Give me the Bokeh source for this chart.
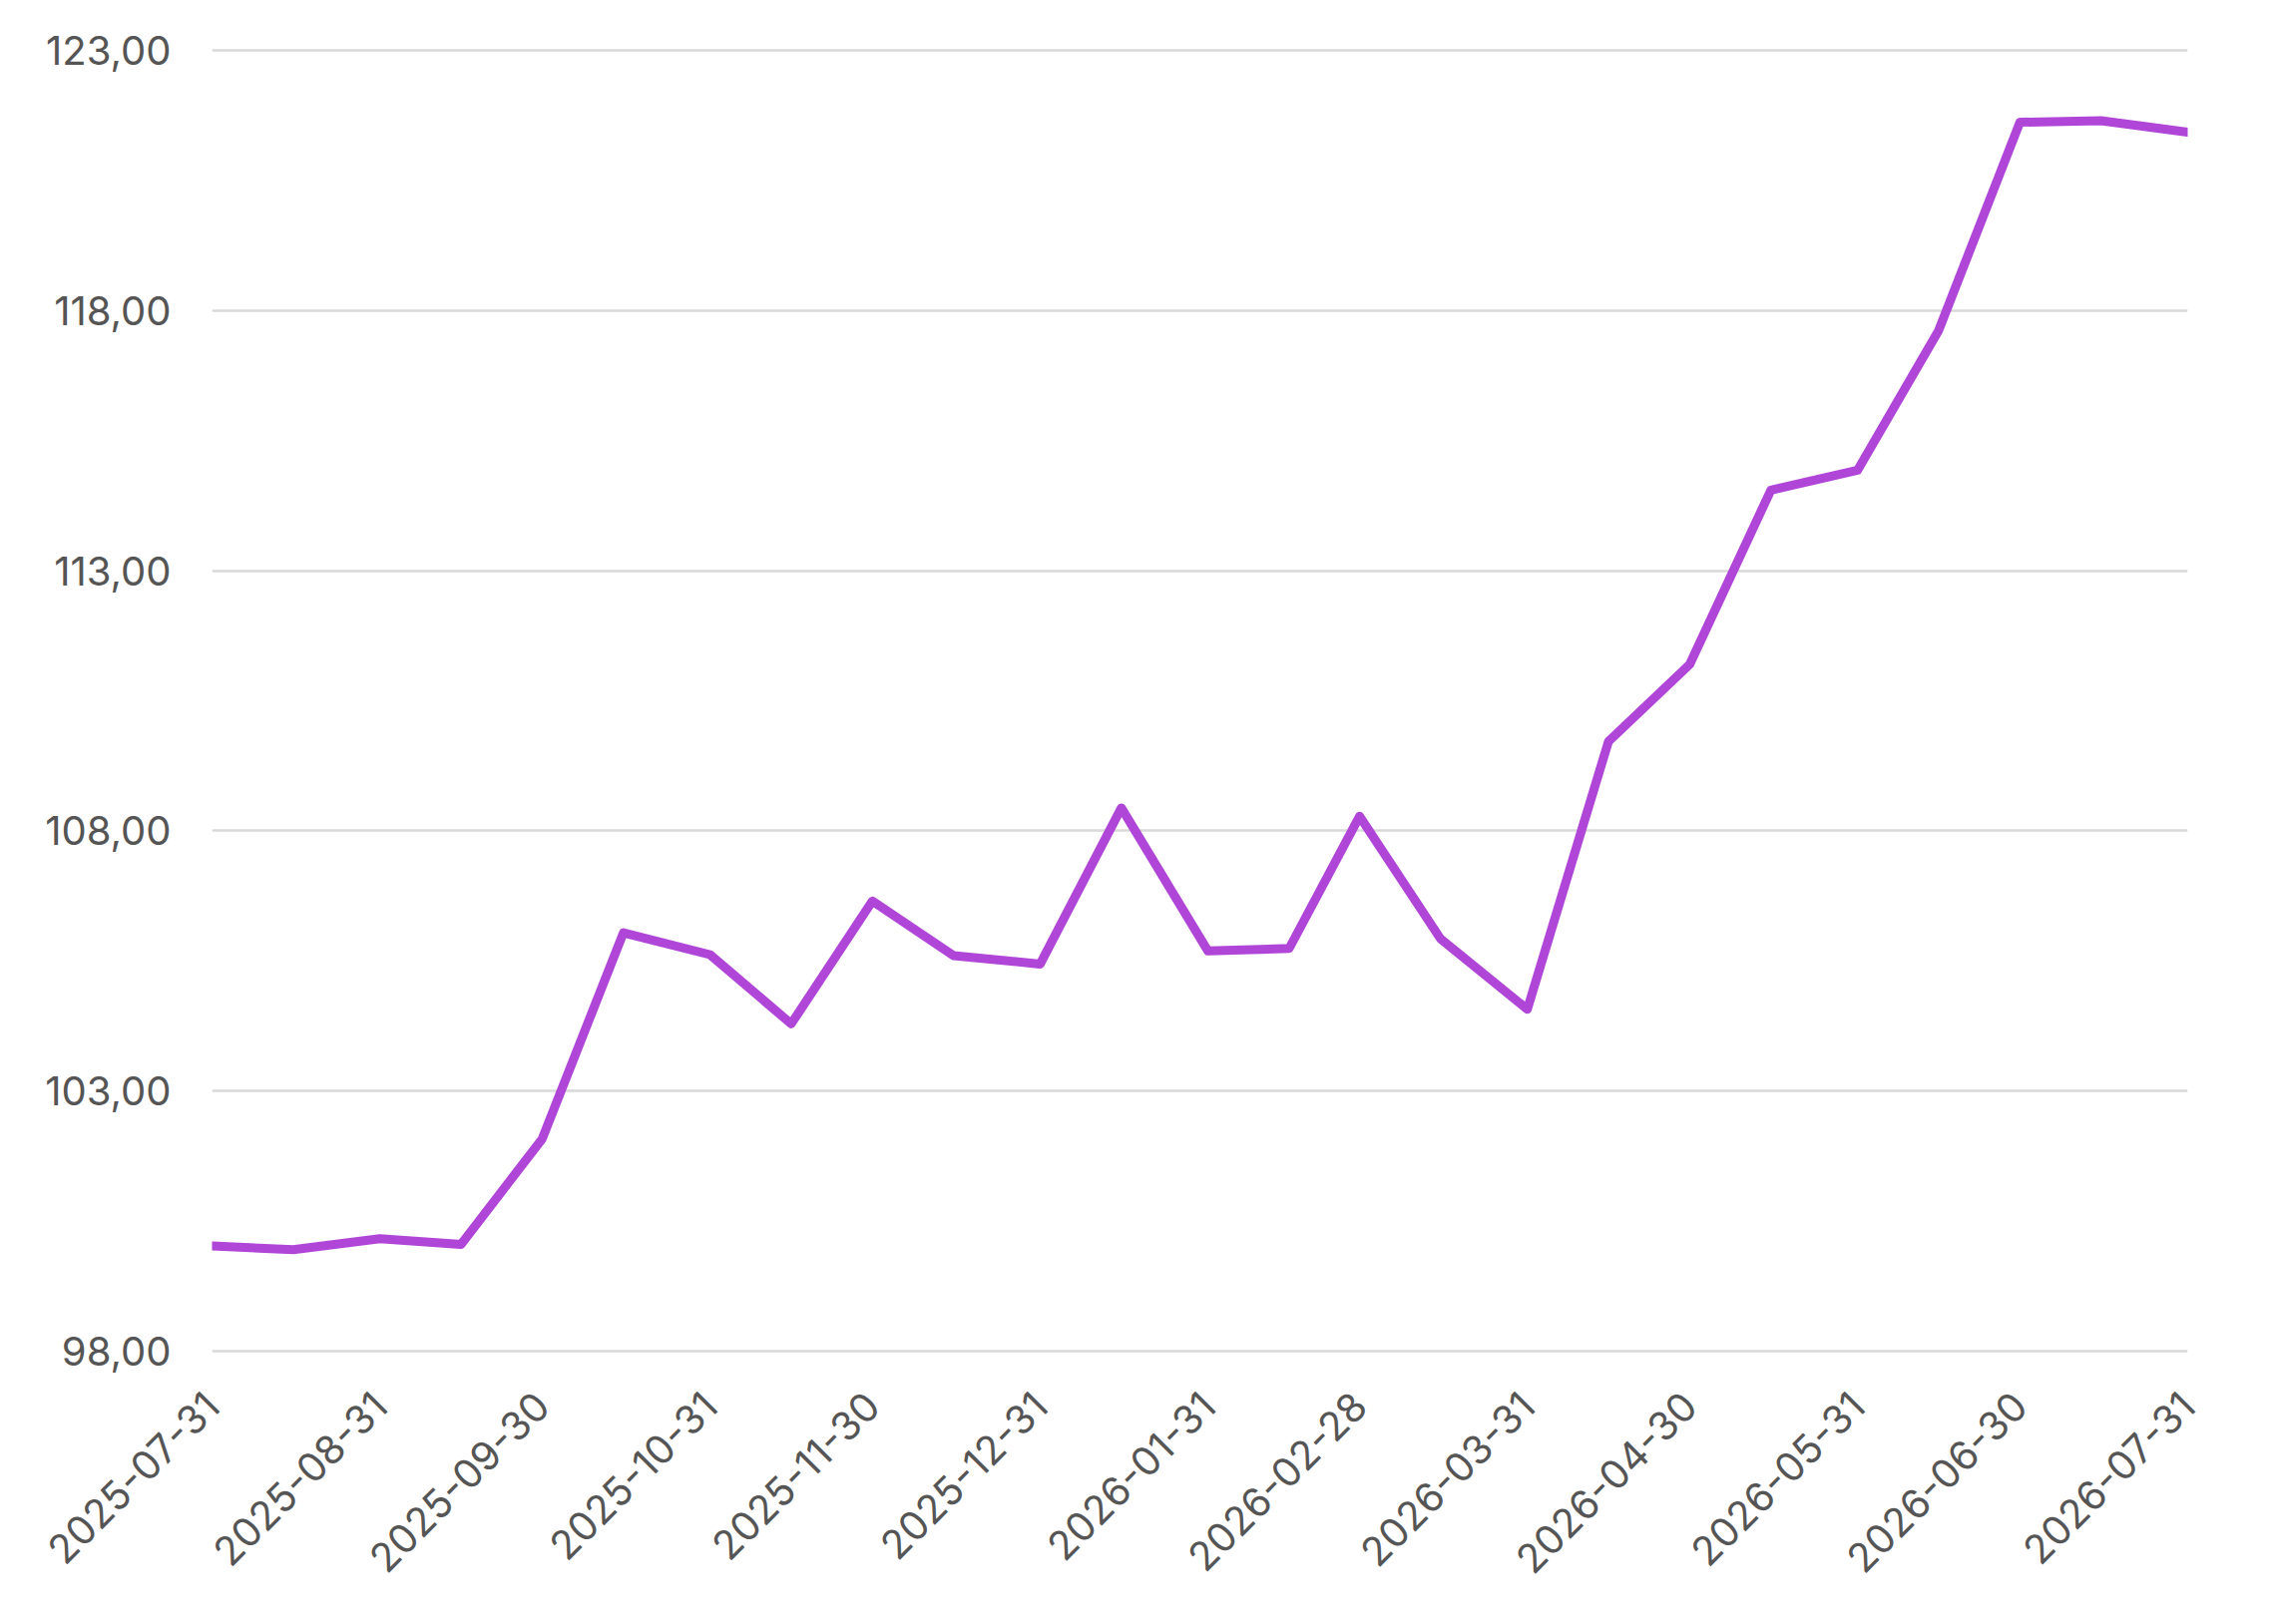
from datetime import datetime
import calendar
from bokeh.plotting import figure
from bokeh.models import FixedTicker, DatetimeTickFormatter, Range1d, ColumnDataSource
from bokeh.embed import file_html
from bokeh.resources import INLINE

dates = ["2025-07-31", "2025-08-15", "2025-08-31", "2025-09-15", "2025-09-30",
         "2025-10-15", "2025-10-31", "2025-11-15", "2025-11-30", "2025-12-15",
         "2025-12-31", "2026-01-15", "2026-01-31", "2026-02-15", "2026-02-28",
         "2026-03-15", "2026-03-31", "2026-04-15", "2026-04-30", "2026-05-15",
         "2026-05-31", "2026-06-15", "2026-06-30", "2026-07-15", "2026-07-31"]
values = [100.02, 99.95, 100.16, 100.05, 102.08,
          106.04, 105.62, 104.29, 106.65, 105.60,
          105.44, 108.44, 105.69, 105.74, 108.28,
          105.92, 104.57, 109.72, 111.20, 114.55,
          114.93, 117.62, 121.62, 121.65, 121.43]
tick_dates = ["2025-07-31", "2025-08-31", "2025-09-30", "2025-10-31", "2025-11-30",
              "2025-12-31", "2026-01-31", "2026-02-28", "2026-03-31", "2026-04-30",
              "2026-05-31", "2026-06-30", "2026-07-31"]
y_ticks = [98, 103, 108, 113, 118, 123]
y_labels = ["98,00", "103,00", "108,00", "113,00", "118,00", "123,00"]

x = [datetime.strptime(d, "%Y-%m-%d") for d in dates]
tick_ms = [calendar.timegm(datetime.strptime(d, "%Y-%m-%d").timetuple()) * 1000 for d in tick_dates]

src = ColumnDataSource(dict(x=x, y=values))

p = figure(x_axis_type="datetime", output_backend="svg", toolbar_location=None,
           frame_width=1980, frame_height=1356,
           x_range=Range1d(x[0], x[-1]), y_range=Range1d(97.5, 123.5),
           min_border_left=212, min_border_top=24, min_border_right=50, min_border_bottom=10)
p.outline_line_color = None
p.background_fill_color = "white"
p.border_fill_color = "white"

p.line("x", "y", source=src, line_color="#B046D8", line_width=9,
       line_join="round", line_cap="round")

font = "Inter"
lab_color = "#555555"

p.xgrid.grid_line_color = None
p.ygrid.grid_line_color = "#d9d9d9"
p.ygrid.grid_line_width = 2.5
p.ygrid.ticker = FixedTicker(ticks=y_ticks)

ya = p.yaxis[0]
ya.ticker = FixedTicker(ticks=y_ticks)
ya.major_label_overrides = {t: l for t, l in zip(y_ticks, y_labels)}
ya.axis_line_color = None
ya.major_tick_line_color = None
ya.minor_tick_line_color = None
ya.major_label_standoff = 35
ya.major_label_text_font = font
ya.major_label_text_font_size = "40px"
ya.major_label_text_color = lab_color

xa = p.xaxis[0]
xa.ticker = FixedTicker(ticks=tick_ms)
fmt = "%Y-%m-%d"
xa.formatter = DatetimeTickFormatter(microseconds=fmt, milliseconds=fmt, seconds=fmt,
                                     minsec=fmt, minutes=fmt, hourmin=fmt, hours=fmt,
                                     days=fmt, months=fmt, years=fmt)
xa.axis_line_color = None
xa.major_tick_line_color = None
xa.minor_tick_line_color = None
xa.major_label_orientation = 0.785398
xa.major_label_standoff = 16
xa.major_label_text_font = font
xa.major_label_text_font_size = "40px"
xa.major_label_text_color = lab_color

open("out.html", "w").write(file_html(p, INLINE))
